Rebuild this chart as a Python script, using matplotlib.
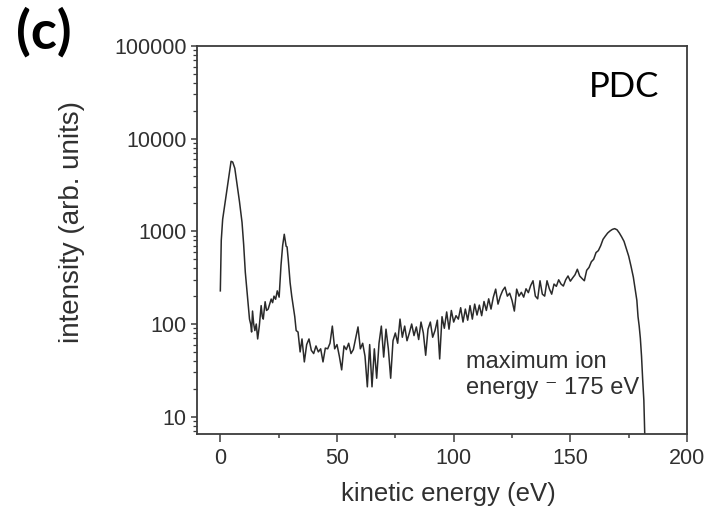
import matplotlib
matplotlib.use("Agg")
import matplotlib.pyplot as plt
from matplotlib.ticker import MultipleLocator, LogLocator, NullFormatter, FixedLocator, FixedFormatter

# ---- data ----
energy = [0, 0.4, 1.0, 2.0, 3.0, 4.0, 4.6, 5.3, 6.2, 7.1, 8.2, 9.3, 10.0, 10.7, 11.6,
          12.5, 13.0, 13.4, 13.8, 14.3, 14.8, 15.4, 16.0, 16.7, 17.5, 18.0, 18.4, 19.2,
          19.8, 20.5, 21.2, 21.8, 22.4, 23.0, 23.7, 24.4, 25.2, 26.0, 26.7, 27.4, 28.2,
          28.6, 29.1, 29.9, 30.6, 31.2, 31.9, 32.5, 33.3, 34.2,
          35, 36, 37, 38, 39, 40, 41, 42, 43, 44, 45, 46, 47, 48, 49, 50,
          51, 52, 53, 54, 55, 56, 57, 58, 59, 60, 61, 62, 63, 64, 65, 66, 67, 68, 69, 70,
          71, 72, 73, 74, 75, 76, 77, 78, 79, 80, 81, 82, 83, 84, 85, 86, 87, 88, 89, 90,
          91, 92, 93, 94, 95, 96, 97, 98, 99, 100, 101, 102, 103, 104, 105, 106, 107, 108,
          109, 110, 111, 112, 113, 114, 115, 116, 117, 118, 119, 120, 121, 122, 123, 124,
          125, 126, 127, 128, 129, 130, 131, 132, 133, 134, 135, 136, 137, 138, 139, 140,
          141, 142, 143, 144, 145, 146, 147, 148, 149, 150, 151, 152, 153, 154, 155, 156,
          157, 158, 159, 160, 161, 162, 163, 164, 165, 166, 167, 168, 169, 170, 171, 172,
          173, 174, 175, 176, 177, 178, 178.5, 179, 179.5, 180, 180.5, 181, 181.5, 182]

intensity = [228, 800, 1350, 2000, 3000, 4500, 5700, 5600, 4800, 3300, 2100, 1250, 720,
             363, 200, 113, 100, 82, 138, 100, 85, 100, 69, 95, 158, 120, 113, 174,
             140, 145, 165, 186, 170, 200, 185, 228, 195, 430, 700, 930, 690,
             680, 500, 280, 200, 158, 120, 85, 82, 50,
             69, 39, 60, 69, 52, 48, 58, 50, 54, 39, 55, 54, 62, 95, 54, 60,
             45, 32, 58, 53, 62, 48, 53, 70, 93, 54, 62, 45, 21, 60, 21, 54, 26, 62, 95, 44,
             88, 54, 26, 66, 80, 62, 113, 72, 95, 66, 80, 100, 75, 93, 68, 105, 80, 46, 88, 105,
             72, 85, 110, 42, 120, 90, 135, 88, 140, 105, 123, 113, 150, 105, 145, 110, 158, 113,
             164, 125, 160, 123, 175, 140, 187, 145, 195, 238, 164, 200, 230, 250, 200, 215,
             180, 138, 238, 200, 220, 195, 240, 218, 260, 293, 200, 187, 293, 210, 200, 293,
             240, 210, 270, 255, 300, 270, 257, 300, 330, 290, 315, 340, 390, 330, 310, 293,
             380, 408, 470, 500, 590, 620, 700, 820, 890, 960, 1010, 1050, 1070, 1040, 960, 870,
             780, 650, 540, 420, 320, 220, 180, 120, 95, 70, 45, 25, 15, 5]

x_ticks = [0, 50, 100, 150, 200]
y_ticks = [10, 100, 1000, 10000, 100000]
y_tick_labels = ["10", "100", "1000", "10000", "100000"]

# ---- figure ----
fig = plt.figure(figsize=(7.2, 5.12), dpi=100)
ax = fig.add_axes([0.2736, 0.1523, 0.6806, 0.7578])

ax.plot(energy, intensity, color="#2a2a2a", lw=1.1)

ax.set_yscale("log")
ax.set_xlim(-10, 200)
ax.set_ylim(6.5, 100000)

edge = "#3c3c3c"
txt = "#303030"
for s in ["left", "bottom", "top", "right"]:
    ax.spines[s].set_color(edge)
    ax.spines[s].set_linewidth(1.3)

ax.xaxis.set_major_locator(FixedLocator(x_ticks))
ax.xaxis.set_minor_locator(MultipleLocator(25))
ax.yaxis.set_major_locator(FixedLocator(y_ticks))
ax.yaxis.set_major_formatter(FixedFormatter(y_tick_labels))
ax.yaxis.set_minor_locator(LogLocator(base=10, subs=range(2, 10)))
ax.yaxis.set_minor_formatter(NullFormatter())

font = ["Liberation Sans", "DejaVu Sans"]
ax.tick_params(axis="x", which="major", direction="out", length=6, width=1.1,
               color=edge, labelsize=15.5, labelcolor=txt, pad=4, top=False)
ax.tick_params(axis="x", which="minor", direction="out", length=3, width=1.1,
               color=edge, top=False)
ax.tick_params(axis="y", which="major", direction="out", length=4.5, width=1.1,
               color=edge, labelsize=15.5, labelcolor=txt, pad=3, right=False)
ax.tick_params(axis="y", which="minor", direction="out", length=3, width=0.9,
               color=edge, right=False)
for lab in ax.get_xticklabels() + ax.get_yticklabels():
    lab.set_family(font)

ax.set_xlabel("kinetic energy (eV)", fontsize=18.5, color=txt, family=font)
ax.set_ylabel("intensity (arb. units)", fontsize=20, color=txt, family=font)
ax.xaxis.set_label_coords(0.512, -0.124)
ax.yaxis.set_label_coords(-0.228, 0.546)

ax.text(0.548, 0.215, "maximum ion\nenergy \u207b 175 eV", transform=ax.transAxes,
        fontsize=17, color=txt, family=font, ha="left", va="top", linespacing=1.25)

fig.text(0.818, 0.83, "PDC", fontsize=25, family=["Lato", "DejaVu Sans"],
         color="black", ha="left", va="center")
fig.text(0.022, 0.938, "(c)", fontsize=39, fontweight="bold",
         family=["Lato", "DejaVu Sans"], color="black", ha="left", va="center")

fig.savefig("out.png", dpi=100)
